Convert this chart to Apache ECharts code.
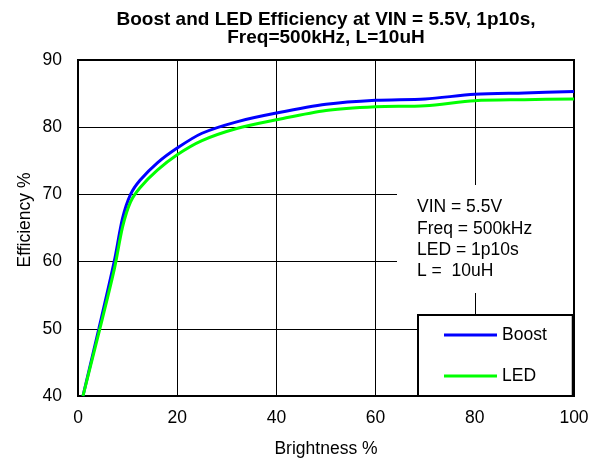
<!DOCTYPE html>
<html>
<head>
<meta charset="utf-8">
<script src="https://cdn.jsdelivr.net/npm/echarts@6/dist/echarts.min.js"></script>
<style>
  html, body { margin: 0; padding: 0; background: #fff; }
  #chart { width: 600px; height: 459px; }
</style>
</head>
<body>
<div id="chart"></div>
<script>
// values
var brightness = [1, 4.2, 7.3, 9, 10.6, 12.5, 16, 20, 25, 32, 40, 50, 60, 70, 80, 90, 100];
var boostEff = [40, 50, 60, 66.5, 70, 72.1, 74.7, 76.9, 79.1, 80.8, 82.1, 83.4, 84.0, 84.2, 84.9, 85.1, 85.3];
var ledEff = [40, 49.4, 58.8, 65.2, 68.9, 71.0, 73.6, 75.9, 78.0, 79.8, 81.1, 82.5, 83.05, 83.2, 83.95, 84.1, 84.2];
var seriesNames = ["Boost", "LED"];
var noteLines = ["VIN = 5.5V", "Freq = 500kHz", "LED = 1p10s", "L =  10uH"];

var FONT = "'Liberation Sans', Arial, sans-serif";

function pairs(xs, ys) {
  return xs.map(function (x, i) { return [x, ys[i]]; });
}

var chart = echarts.init(document.getElementById("chart"));

chart.setOption({
  animation: false,
  backgroundColor: "#fff",
  textStyle: { fontFamily: FONT, color: "#000" },
  title: {
    text: "Boost and LED Efficiency at VIN = 5.5V, 1p10s,\nFreq=500kHz, L=10uH",
    left: 326,
    top: 11,
    padding: 0,
    textAlign: "center",
    textStyle: {
      fontFamily: FONT,
      fontSize: 19,
      fontWeight: "bold",
      lineHeight: 18,
      color: "#000",
    },
  },
  grid: {
    left: 78,
    right: 26,
    top: 60,
    bottom: 63,
    outerBoundsMode: "none",
    containLabel: false,
    show: true,
    borderColor: "#000",
    borderWidth: 2,
    backgroundColor: "transparent",
  },
  legend: {
    data: seriesNames,
    orient: "vertical",
    left: 418,
    top: 315,
    padding: [11, 26, 11, 26],
    itemGap: 23,
    itemWidth: 53,
    itemHeight: 3,
    icon: "rect",
    backgroundColor: "#fff",
    borderColor: "#000",
    borderWidth: 2,
    borderRadius: 0,
    z: 50,
    textStyle: { fontFamily: FONT, fontSize: 17.5, color: "#000" },
  },
  xAxis: {
    type: "value",
    min: 0,
    max: 100,
    interval: 20,
    name: "Brightness %",
    nameLocation: "middle",
    nameGap: 44,
    nameTextStyle: { fontFamily: FONT, fontSize: 17.5, color: "#000" },
    axisLine: { show: true, onZero: false, lineStyle: { color: "#000", width: 2 } },
    axisTick: { show: false },
    axisLabel: { margin: 13, fontFamily: FONT, fontSize: 17.5, color: "#000" },
    splitLine: { show: true, lineStyle: { color: "#000", width: 1 } },
  },
  yAxis: {
    type: "value",
    min: 40,
    max: 90,
    interval: 10,
    name: "Efficiency %",
    nameLocation: "middle",
    nameGap: 44,
    nameMoveOverlap: false,
    nameTextStyle: { fontFamily: FONT, fontSize: 17.5, color: "#000", padding: [0, 0, 0, 16] },
    axisLine: { show: true, lineStyle: { color: "#000", width: 2 } },
    axisTick: { show: false },
    axisLabel: { margin: 16, fontFamily: FONT, fontSize: 17.5, color: "#000" },
    splitLine: { show: true, lineStyle: { color: "#000", width: 1 } },
  },
  graphic: [
    {
      type: "rect",
      z: 40,
      shape: { x: 397, y: 185, width: 176, height: 108 },
      style: { fill: "#fff" },
    },
    {
      type: "text",
      z: 41,
      left: 417,
      top: 197,
      style: {
        text: noteLines.join("\n"),
        fontFamily: FONT,
        fontSize: 17.5,
        lineHeight: 21.3,
        fill: "#000",
      },
    },
  ],
  series: [
    {
      name: seriesNames[0],
      type: "line",
      smooth: 0.3,
      symbol: "none",
      lineStyle: { color: "#0000ff", width: 3 },
      itemStyle: { color: "#0000ff" },
      data: pairs(brightness, boostEff),
    },
    {
      name: seriesNames[1],
      type: "line",
      smooth: 0.3,
      symbol: "none",
      lineStyle: { color: "#00ff00", width: 3 },
      itemStyle: { color: "#00ff00" },
      data: pairs(brightness, ledEff),
    },
  ],
});
</script>
</body>
</html>
